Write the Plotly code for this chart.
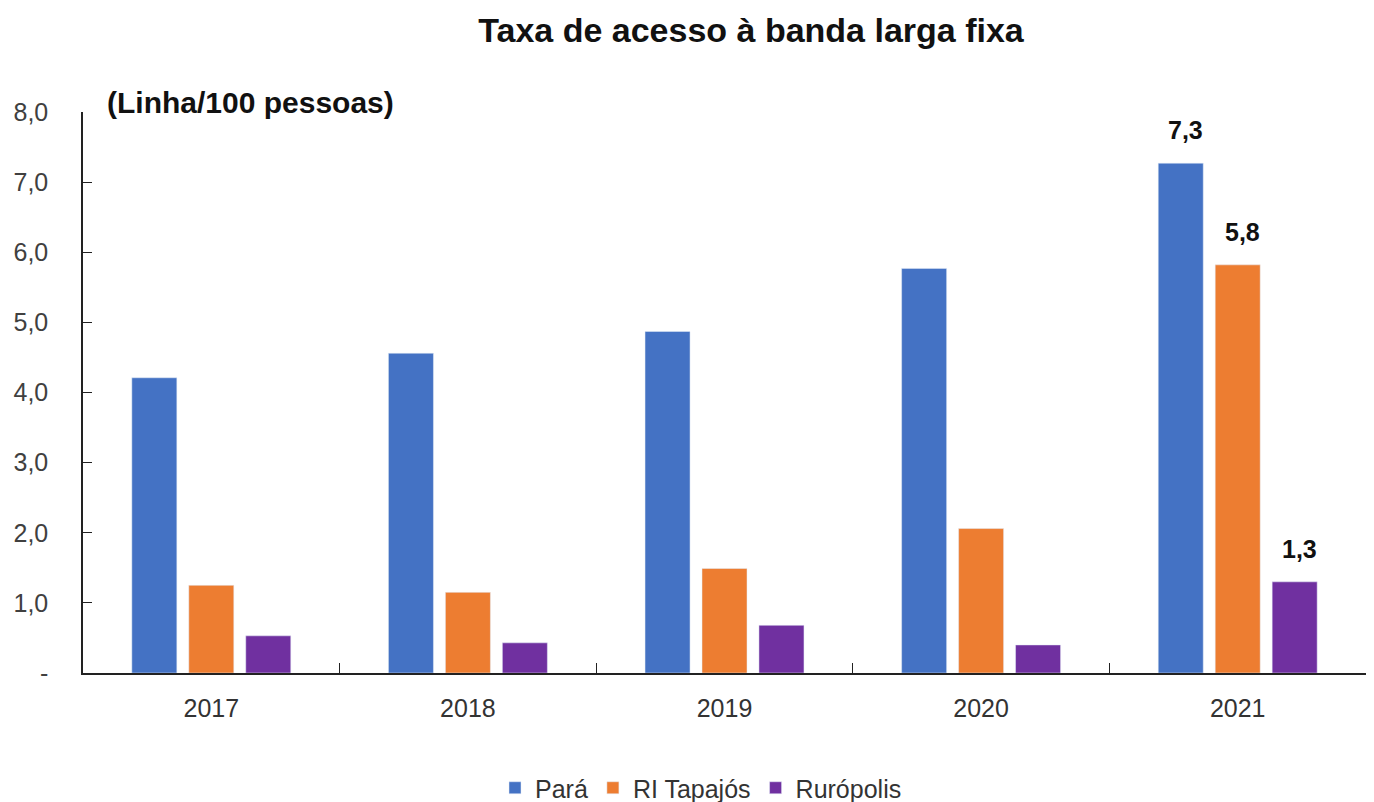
import plotly.graph_objects as go

years = ["2017", "2018", "2019", "2020", "2021"]
para = [4.21, 4.56, 4.87, 5.77, 7.27]
ri_tapajos = [1.25, 1.15, 1.49, 2.06, 5.82]
ruropolis = [0.53, 0.43, 0.68, 0.40, 1.30]
labeled_years = ["2021"]

y_tickvals = [0, 1, 2, 3, 4, 5, 6, 7, 8]
y_ticktext = ["-", "1,0", "2,0", "3,0", "4,0", "5,0", "6,0", "7,0", "8,0"]

series = [
    ("Pará", para, "#4472C4"),
    ("RI Tapajós", ri_tapajos, "#ED7D31"),
    ("Rurópolis", ruropolis, "#7030A0"),
]

FONT = "Liberation Sans, Arial, sans-serif"

# the page body adds an 8px offset; figure coords = page coords - 8
OFF = 8
W, H = 1366, 794
ML, MR, MT, MB = 83 - OFF, 8, 112 - OFF, 794 - (673 - OFF)
PW = W - ML - MR
PH = H - MT - MB
BARGAP = 0.334


def fmt(v):
    return f"{v:.1f}".replace(".", ",")


fig = go.Figure()
for name, vals, color in series:
    fig.add_trace(go.Bar(name=name, x=years, y=vals, marker_color=color))

# value labels for the highlighted year, positioned over each bar of the group
slot_px = PW / len(years) * (1 - BARGAP) / len(series)
for i, (name, vals, color) in enumerate(series):
    for k, (yr, v) in enumerate(zip(years, vals)):
        if yr in labeled_years:
            fig.add_annotation(
                x=k, y=v, xref="x", yref="y", text=f"<b>{fmt(v)}</b>",
                showarrow=False, yanchor="middle", yshift=33,
                xshift=(i - 1) * slot_px + 5,
                font=dict(family=FONT, size=25, color="#111111"),
            )

fig.update_layout(
    width=W, height=H,
    paper_bgcolor="white", plot_bgcolor="white",
    margin=dict(l=ML, r=MR, t=MT, b=MB),
    barmode="group", bargap=BARGAP, bargroupgap=0.21,
    font=dict(family=FONT, size=22, color="#404040"),
    title=dict(text="<b>Taxa de acesso à banda larga fixa</b>",
               x=(751 - OFF) / W, xanchor="center", y=1 - (30 - OFF) / H, yanchor="middle",
               font=dict(family=FONT, size=34, color="#111111")),
    legend=dict(orientation="h", x=(701 - 83) / PW, xanchor="center",
                yref="container", y=1 - (788 - OFF) / H, yanchor="middle",
                font=dict(family=FONT, size=25, color="#333333"),
                itemwidth=30, tracegroupgap=0),
)

fig.update_yaxes(
    range=[0, 8], tickvals=y_tickvals, ticktext=y_ticktext, automargin=False,
    showgrid=False, zeroline=False, showline=True, linecolor="#222222", linewidth=1.5,
    ticks="inside", ticklen=9, tickcolor="#222222", ticklabelstandoff=28,
    tickfont=dict(family=FONT, size=25, color="#404040"),
)
fig.update_xaxes(
    type="category", categoryorder="array", categoryarray=years,
    range=[-0.5, len(years) - 0.5], automargin=False, tickangle=0,
    showgrid=False, showline=True, linecolor="#222222", linewidth=1.5,
    ticks="inside", tickson="boundaries", ticklen=10, tickcolor="#222222",
    ticklabelstandoff=12,
    tickfont=dict(family=FONT, size=25, color="#333333"),
)

fig.add_annotation(
    text="<b>(Linha/100 pessoas)</b>", xref="paper", yref="paper",
    x=(105 - 83) / PW, xanchor="left", y=1 + 9 / PH, yanchor="middle",
    showarrow=False, font=dict(family=FONT, size=30, color="#111111"),
)

fig.write_html("out.html")
